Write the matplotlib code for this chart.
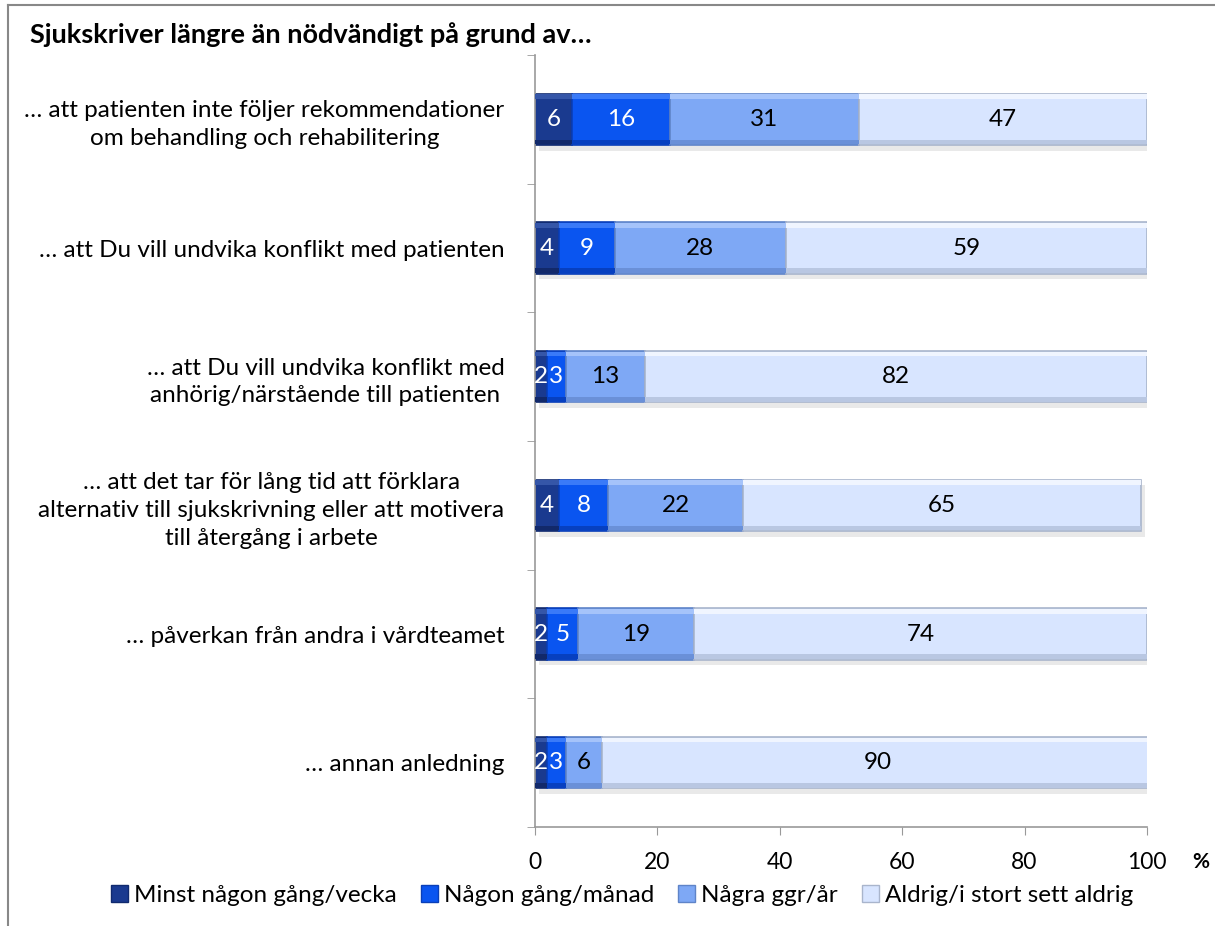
import matplotlib.pyplot as plt
import matplotlib.patheffects as pe
from matplotlib.lines import Line2D
import numpy as np

plt.rcParams['font.family'] = ['Lato', 'DejaVu Sans']

# survey answers in percent, top row first
questions = [
    '… att patienten inte följer rekommendationer\nom behandling och rehabilitering',
    '… att Du vill undvika konflikt med patienten',
    '… att Du vill undvika konflikt med\nanhörig/närstående till patienten',
    '… att det tar för lång tid att förklara\nalternativ till sjukskrivning eller att motivera\ntill återgång i arbete',
    '… påverkan från andra i vårdteamet',
    '… annan anledning',
]
weekly = [6, 4, 2, 4, 2, 2]
monthly = [16, 9, 3, 8, 5, 3]
yearly = [31, 28, 13, 22, 19, 6]
never = [47, 59, 82, 65, 74, 90]

series_names = ['Minst någon gång/vecka', 'Någon gång/månad', 'Några ggr/år', 'Aldrig/i stort sett aldrig']
colors = ['#1a3a8f', '#0a55f0', '#7ea8f5', '#d8e5ff']
edges = ['#102a6e', '#0a3fb8', '#5f84c8', '#a9b5cc']
tops = ['#3556a8', '#3a7af8', '#a5c3fa', '#f0f5ff']
bottoms = ['#12296a', '#0740c0', '#6a90d8', '#b9c7e2']
text_colors = ['white', 'white', 'black', 'black']

fig = plt.figure(figsize=(12.15, 9.26), dpi=100)
ax = fig.add_axes([0.4403, 0.1069, 0.5037, 0.8337])

h = 0.4
bevel = 0.035
y = np.arange(len(questions))
left = np.zeros(len(questions))
shadow = [pe.SimplePatchShadow(offset=(3, -4), shadow_rgbFace='#888888', alpha=0.18), pe.Normal()]
for vals, name, c, ec, tc, tp, bt in zip([weekly, monthly, yearly, never], series_names,
                                         colors, edges, text_colors, tops, bottoms):
    vals = np.array(vals, dtype=float)
    bars = ax.barh(y, vals, left=left, height=h, color=c, edgecolor=ec, linewidth=1.2,
                   label=name, path_effects=shadow, zorder=2)
    # lighter strip on top and darker strip at the bottom for a bevelled look
    ax.barh(y - h / 2 + bevel / 2 + 0.006, vals, left=left, height=bevel, color=tp,
            linewidth=0, zorder=3)
    ax.barh(y + h / 2 - bevel / 2 - 0.006, vals, left=left, height=bevel, color=bt,
            linewidth=0, zorder=3)
    for b, v in zip(bars, vals):
        ax.text(b.get_x() + b.get_width() / 2, b.get_y() + b.get_height() / 2, f'{v:g}',
                ha='center', va='center', color=tc, fontsize=17.5, zorder=4)
    left += vals

ax.set_xlim(0, 100)
ax.set_ylim(len(questions) - 0.5, -0.5)
ax.set_xticks([0, 20, 40, 60, 80, 100])
ax.tick_params(axis='x', labelsize=16.5, length=6, color='#999999', direction='out', pad=12)
ax.set_yticks(y)
ax.set_yticklabels(questions, fontsize=17.5, multialignment='center', linespacing=1.4)
ax.set_yticks(np.arange(len(questions) + 1) - 0.5, minor=True)
ax.tick_params(axis='y', which='major', length=0, pad=22)
ax.tick_params(axis='y', which='minor', length=6, color='#999999')
for s in ['top', 'right']:
    ax.spines[s].set_visible(False)
for s in ['left', 'bottom']:
    ax.spines[s].set_color('#999999')
    ax.spines[s].set_linewidth(1.2)

fig.text(0.025, 0.963, 'Sjukskriver längre än nödvändigt på grund av…', fontsize=19.5,
         fontweight='bold', ha='left', va='center')
fig.text(0.995, 0.069, '%', fontsize=15, fontweight='bold', ha='right', va='center')

handles = [plt.Rectangle((0, 0), 1, 1, facecolor=c, edgecolor=ec) for c, ec in zip(colors, edges)]
fig.legend(handles, series_names, loc='center', bbox_to_anchor=(0.512, 0.033), ncol=4,
           frameon=False, fontsize=17.5, handlelength=0.7, handleheight=0.7,
           handletextpad=0.25, columnspacing=1.0)

# frame lines along the top and left edge
fig.add_artist(Line2D([0.0066, 0.0066], [0.0, 0.9946], color='#888888', linewidth=1.5))
fig.add_artist(Line2D([0.0066, 1.0], [0.9946, 0.9946], color='#888888', linewidth=1.5))

fig.savefig('out.png', dpi=100)
